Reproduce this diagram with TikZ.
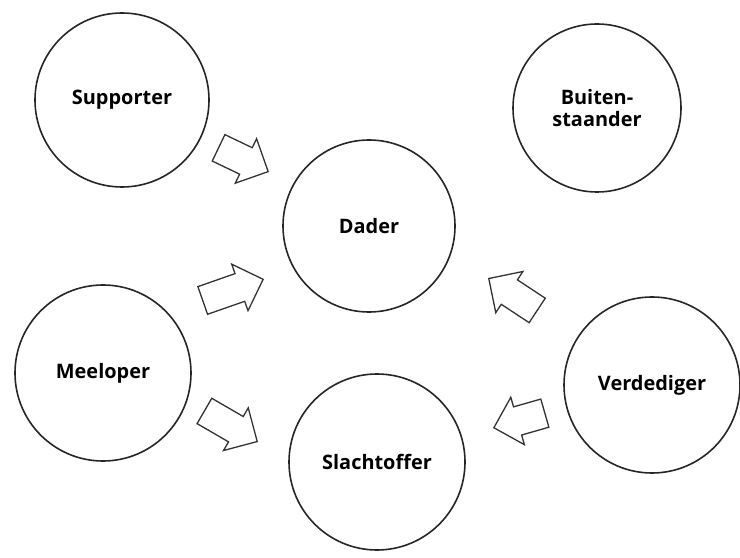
\documentclass[tikz,border=0pt]{standalone}
\usepackage{fontspec}
\setmainfont{Open Sans}
\usetikzlibrary{shapes.arrows}
\begin{document}
\begin{tikzpicture}[x=1bp,y=-1bp,
  role/.style={circle,draw=black!85,line width=1.6bp,inner sep=0pt,font=\fontsize{20}{22}\selectfont\bfseries,align=center},
  blockarrow/.style={single arrow,draw=black!80,line width=1.3bp,inner xsep=0pt,inner ysep=14bp,
    single arrow head extend=10bp,single arrow tip angle=90,anchor=tip},
]
\useasboundingbox (0,0) rectangle (740,558);
\node[role,minimum size=174bp] (supporter) at (122,100) {Supporter};
\node[role,minimum size=168bp] (buiten) at (597,108) {Buiten-\\staander};
\node[role,minimum size=172bp] (dader) at (369,226) {Dader};
\node[role,minimum size=176bp] (meeloper) at (103,373) {Meeloper};
\node[role,minimum size=176bp] (verdediger) at (652,385) {Verdediger};
\node[role,minimum size=176bp] (slachtoffer) at (377,462) {Slachtoffer};

\node[blockarrow,minimum height=55bp,rotate=-25.6] (a1) at (269,172) {};
\node[blockarrow,minimum height=64bp,rotate=19.3] (a2) at (264,279) {};
\node[blockarrow,minimum height=61bp,rotate=-30.1] (a3) at (258,442) {};
\node[blockarrow,minimum height=58bp,rotate=146.6] (a4) at (488,278) {};
\node[blockarrow,minimum height=53bp,rotate=196] (a5) at (493,428) {};
\end{tikzpicture}
\end{document}
